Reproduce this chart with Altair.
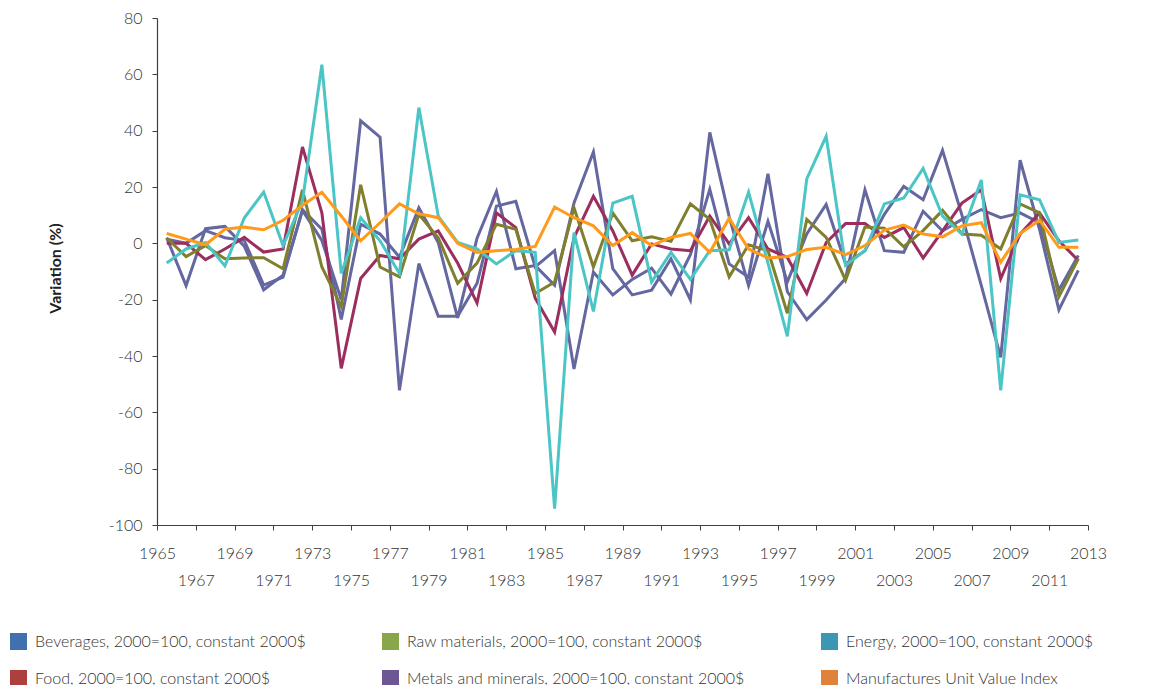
import altair as alt
import pandas as pd

years = list(range(1966, 2014))

beverages = [2, -15, 5.2, 6, -1, -16.5, -11.3, 11.7, 1, -20,
             43.5, 37.7, -52.2, -7.2, -25.9, -25.9, -14.2, 13.2, 14.9, -8.4,
             -2.6, -44.6, -10.2, -18.3, -12.8, -8.8, -18, -4, 19.2, -7.3,
             -12, 24.7, -17.2, -27.1, -20.1, -12.5, 19, -2.6, -3.2, 11.4,
             4.4, 8.5, 12, 9.1, 10.8, 7.3, -16.6, -4.3]
metals = [1.5, 0, 4.5, 2, 1, -14.8, -12, 12, 5, -27,
          6.8, 3.3, -4.9, 12.6, 0.3, -26.5, 1.8, 18.4, -9, -7.9,
          -14.9, 14.3, 32.4, -9, -18.3, -16.6, -5.5, -20.1, 39.4, 9.5,
          -15, 7.8, -13.7, 3.3, 13.8, -7.3, -2.6, 10.3, 20.2, 15.5,
          33, 10, -15, -40.5, 29.5, 5, -23.6, -9.6]
food = [0, 0, -5.8, -2, 2.1, -3.1, -2, 34.2, 10.8, -44.4,
        -12.5, -4.3, -5.5, 1.5, 4.4, -7, -21.2, 10.8, 5.6, -19.5,
        -31.5, 2, 16.7, 4.4, -11.3, -0.2, -2, -2.6, 9.7, -0.2,
        9.1, -2, -5, -17.8, 0.3, 7, 7, 2.1, 5.6, -5.2,
        4.4, 14.3, 19, -12.5, 3.3, 10.8, 0.9, -6.1]
raw = [1.9, -4.7, -0.8, -5.5, -5.2, -5.1, -9, 19, -8.4, -22.4,
       20.8, -8.4, -11.9, 10.3, 2, -14.2, -7, 6.8, 5, -17.8,
       -13.7, 12.6, -8.4, 10.8, 0.9, 2.3, 0.7, 14, 8.5, -11.9,
       -0.5, -2.6, -24.8, 8.5, 2.1, -13.1, 5.8, 5.4, -1.2, 4.5,
       11.7, 3.3, 2.9, -2, 14, 10.8, -18.9, -5.5]
energy = [-7, -2, 0.3, -8, 9, 18.2, -0.8, 15, 63.4, -10.7,
          9.1, 0.9, -10.7, 48.2, 9.7, 0.3, -2, -7.3, -2.6, -3.2,
          -94.2, 3.8, -24.2, 14.3, 16.7, -13.7, -3.2, -12.8, -2.6, -2.3,
          18.2, -7, -33, 22.9, 38, -7.8, -2.6, 14, 16.1, 26.6,
          9.7, 3.3, 22.5, -52.2, 17.2, 15.5, 0.3, 1.2]
manuf = [3.5, 1.5, -0.5, 5, 5.8, 4.8, 8.2, 13.5, 18.1, 9.7,
         0.9, 7.3, 14, 10.5, 9.1, 0, -3.2, -2.6, -2.2, -1.1,
         12.9, 9.1, 6.2, -0.8, 3.8, -0.8, 2.1, 3.5, -3.2, 8.9,
         -2, -5.2, -4.7, -2.2, -1.4, -4, -0.8, 4.7, 6.5, 3.3,
         2.3, 6.2, 7.3, -6.7, 3.5, 8.2, -1.4, -1.4]

names = {
    "bev": "Beverages, 2000=100, constant 2000$",
    "raw": "Raw materials, 2000=100, constant 2000$",
    "ene": "Energy, 2000=100, constant 2000$",
    "food": "Food, 2000=100, constant 2000$",
    "met": "Metals and minerals, 2000=100, constant 2000$",
    "man": "Manufactures Unit Value Index",
}

# drawing order (bottom to top)
draw = [
    (names["bev"], beverages, "#6467a0"),
    (names["met"], metals, "#6467a0"),
    (names["food"], food, "#9b2d5f"),
    (names["raw"], raw, "#7f7f2e"),
    (names["ene"], energy, "#4bc5c5"),
    (names["man"], manuf, "#ff9a1a"),
]

# legend fills column by column: col1 = Beverages/Food, col2 = Raw/Metals, col3 = Energy/Manufactures
legend_order = [names["bev"], names["food"], names["raw"],
                names["met"], names["ene"], names["man"]]
legend_colors = ["#4170ad", "#ad403f", "#8aa64a", "#6e5593", "#3a98b0", "#e0823a"]

rows = []
for name, vals, _ in draw:
    for yr, v in zip(years, vals):
        rows.append({"series": name, "year": yr, "value": v})
df = pd.DataFrame(rows)

FONT = "Lato"

lines = alt.Chart(df).transform_calculate(
    xpos="datum.year - 0.5"
).mark_line(strokeWidth=3).encode(
    x=alt.X("xpos:Q",
            scale=alt.Scale(domain=[1965, 2013], nice=False, zero=False),
            axis=alt.Axis(
                values=list(range(1965, 2014, 2)), format="d", title=None,
                labelExpr="((datum.value - 1965) / 2) % 2 == 0 ? datum.label : ['', datum.label]",
                labelLineHeight=27, labelOverlap=False, labelFlush=False, labelBound=False,
                labelBaseline="top", labelPadding=15, grid=False, tickSize=5,
                labelFont=FONT, labelFontSize=16, labelFontWeight=300, labelColor="#333333",
                domainColor="#404040", tickColor="#404040", domainWidth=1.2)),
    y=alt.Y("value:Q",
            scale=alt.Scale(domain=[-100, 80], nice=False, zero=False),
            axis=alt.Axis(
                values=list(range(-100, 81, 20)), grid=False, tickSize=5, labelPadding=10,
                labelExpr="'' + datum.value",
                labelFont=FONT, labelFontSize=16, labelFontWeight=300, labelColor="#333333",
                domainColor="#404040", tickColor="#404040", domainWidth=1.2,
                title="Variation (%)", titleFont=FONT, titleFontSize=16,
                titleFontWeight="bold", titleColor="#222222", titleX=-94, titleY=250)),
    stroke=alt.Stroke("series:N",
                      scale=alt.Scale(domain=[d[0] for d in draw], range=[d[2] for d in draw]),
                      legend=None),
)

leg = alt.Chart(df).transform_filter("false").mark_square(opacity=1).encode(
    fill=alt.Fill("series:N",
                  scale=alt.Scale(domain=legend_order, range=legend_colors),
                  legend=alt.Legend(
                      orient="none", legendX=-147, legendY=615, columns=3, title=None,
                      symbolType="square", symbolSize=289, symbolStrokeWidth=0,
                      labelFont=FONT, labelFontSize=16, labelFontWeight=300,
                      labelColor="#333333", labelLimit=600, labelOffset=8,
                      columnPadding=76, rowPadding=20)),
)

chart = alt.layer(lines, leg).properties(
    width=931, height=507,
    autosize=alt.AutoSizeParams(type="none"),
    padding={"left": 149, "top": 10, "right": 60, "bottom": 160},
).configure_view(stroke=None)

chart.save("out.html", embed_options={"renderer": "svg", "actions": False})
